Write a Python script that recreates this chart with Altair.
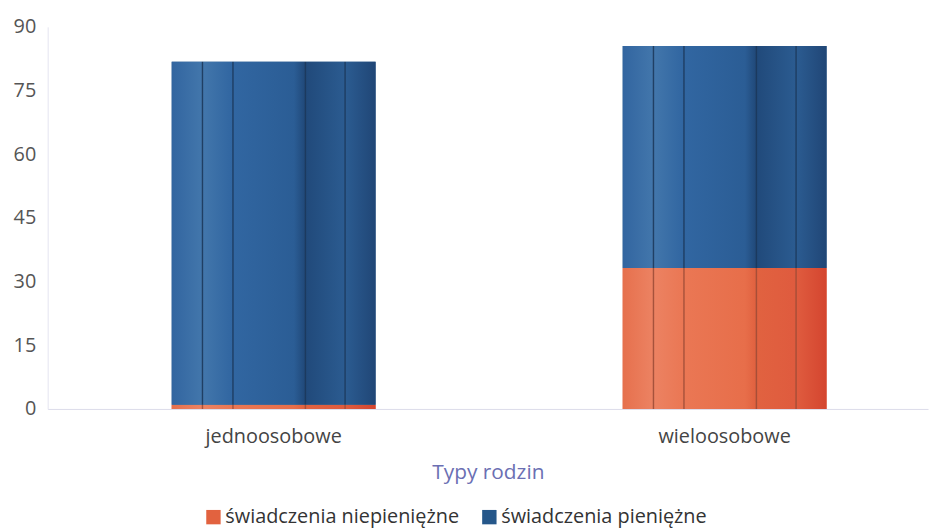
import altair as alt
import pandas as pd

categories = ["jednoosobowe", "wieloosobowe"]
series = ["świadczenia niepieniężne", "świadczenia pieniężne"]
niepieniezne = [1.0, 33.2]
pieniezne = [80.8, 52.3]
y_ticks = [0, 15, 30, 45, 60, 75, 90]

rows = []
for i, c in enumerate(categories):
    rows.append({"typ": c, "seria": series[0], "wartosc": niepieniezne[i], "o": 0})
    rows.append({"typ": c, "seria": series[1], "wartosc": pieniezne[i], "o": 1})
df = pd.DataFrame(rows)

FONT = "Open Sans"


def stripes(cols, line):
    # (offset, color) stops that imitate the vertical texture of the bars
    stops = [
        (0.0, cols[0]), (0.145, cols[1]), (0.15, line), (0.157, cols[1]),
        (0.295, cols[2]), (0.30, line), (0.307, cols[2]),
        (0.60, cols[3]), (0.65, cols[4]), (0.655, line), (0.662, cols[4]),
        (0.845, cols[5]), (0.85, line), (0.857, cols[5]), (1.0, cols[6]),
    ]
    return alt.LinearGradient(
        gradient="linear", x1=0, x2=1, y1=0, y2=0,
        stops=[alt.GradientStop(offset=o, color=c) for o, c in stops],
    )


blue_grad = stripes(["#3265a0", "#4276ab", "#3166a1", "#2b5d95", "#214a7b",
                     "#2b5b90", "#204676"], "#1a3658")
orange_grad = stripes(["#e6704d", "#ec8262", "#ea7754", "#e76e4a", "#e16240",
                       "#df5b3e", "#d4452f"], "#9a4a35")

x_enc = alt.X("typ:N", sort=categories, title="Typy rodzin",
              scale=alt.Scale(paddingInner=0.548, paddingOuter=0.25, align=0.55),
              axis=alt.Axis(labelAngle=0, labelFontSize=20, labelColor="#444444",
                            labelFont=FONT, titleFont=FONT, titleFontSize=21,
                            titleColor="#6b6fb3", titleFontWeight="normal",
                            titlePadding=15, labelPadding=18, ticks=False,
                            domainColor="#dcdcea", domainWidth=1))
y_enc = alt.Y("wartosc:Q", title=None,
              scale=alt.Scale(domain=[0, 90]),
              axis=alt.Axis(values=y_ticks, grid=False, ticks=False,
                            labelFontSize=20, labelColor="#555555", labelFont=FONT,
                            labelPadding=12, domainColor="#e4e4f0", domainWidth=1))

base = alt.Chart(df).mark_bar().encode(
    x=x_enc,
    y=y_enc,
    color=alt.Color("seria:N", sort=series,
                    scale=alt.Scale(domain=series, range=["#e2623f", "#25578a"]),
                    legend=alt.Legend(orient="none", legendX=157, legendY=484,
                                      direction="horizontal",
                                      title=None, symbolType="square",
                                      symbolSize=210, symbolStrokeWidth=0,
                                      labelFontSize=20, labelFont=FONT,
                                      labelColor="#333333", columnPadding=20,
                                      labelOffset=2,
                                      labelLimit=400, symbolOpacity=1)),
    order=alt.Order("o:Q"),
)

overlay = alt.Chart(df).mark_bar().encode(
    x=alt.X("typ:N", sort=categories),
    y=alt.Y("wartosc:Q"),
    fill=alt.condition(alt.datum.o == 0, alt.value(orange_grad), alt.value(blue_grad)),
    order=alt.Order("o:Q"),
)

chart = alt.layer(base, overlay).properties(
    width=887, height=385,
    padding={"left": 5, "top": 7, "right": 5, "bottom": 5},
).configure_view(stroke=None)

chart.save("out.html", embed_options={"renderer": "svg", "actions": False})
